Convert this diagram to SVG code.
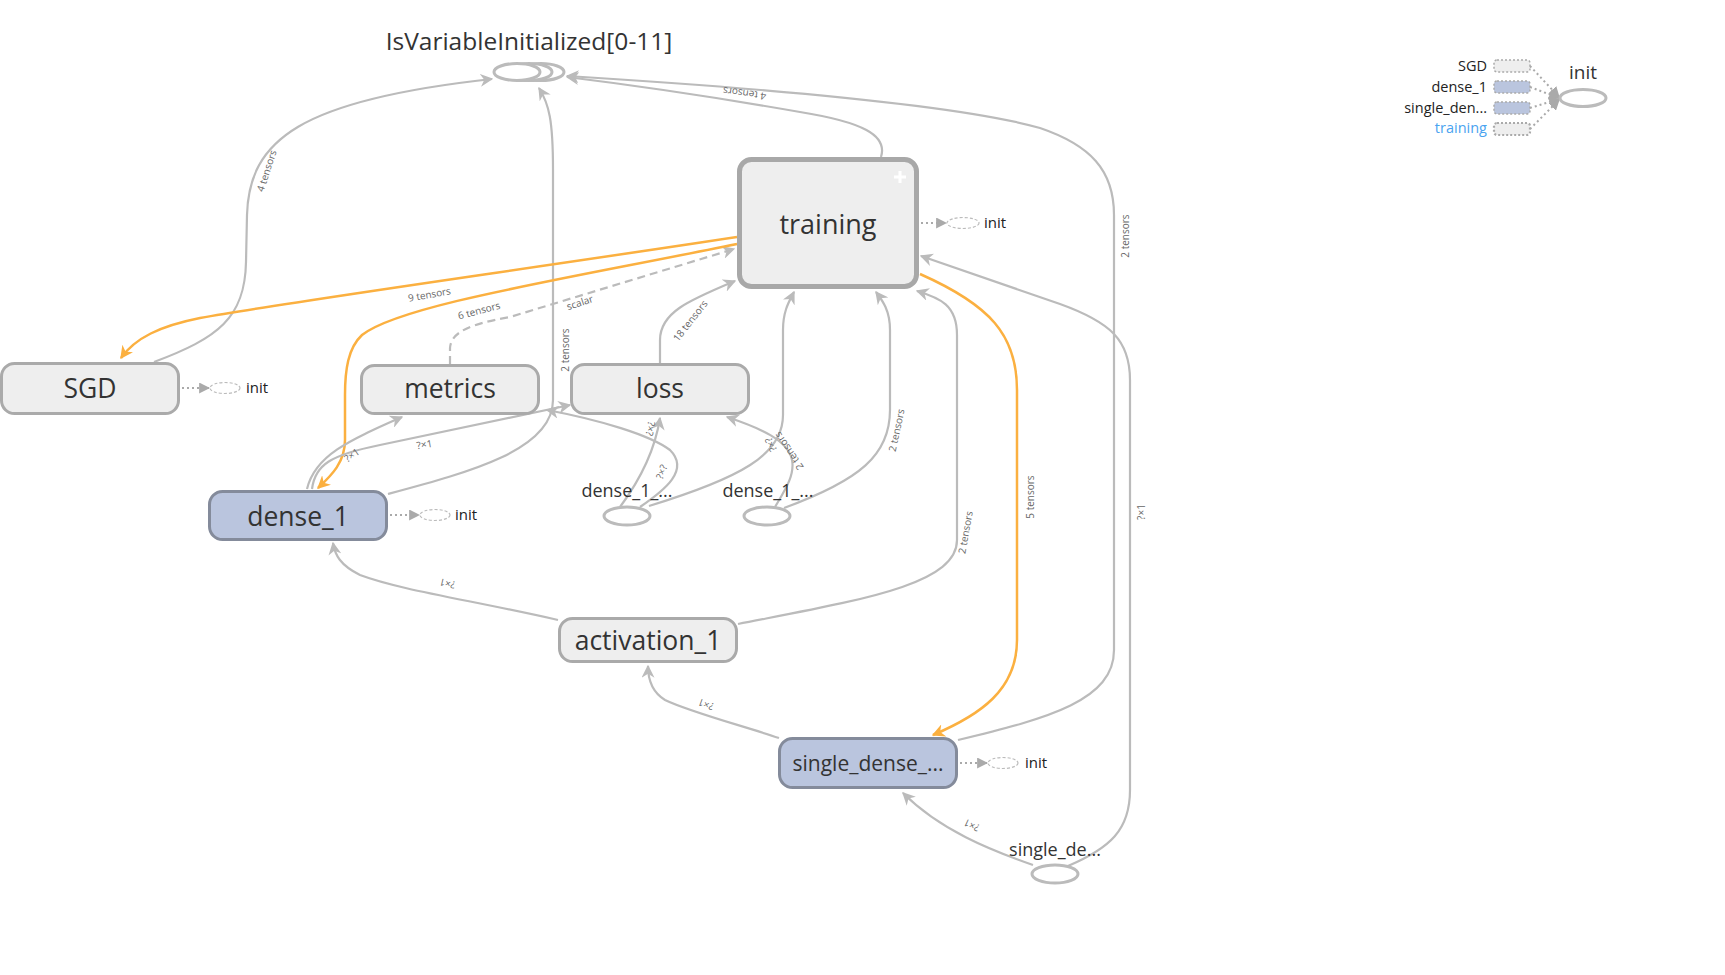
<svg xmlns="http://www.w3.org/2000/svg" width="1725" height="975" viewBox="0 0 1725 975">
<defs>
<marker id="ag" markerUnits="userSpaceOnUse" markerWidth="13" markerHeight="13" viewBox="0 0 10 10" refX="9" refY="5" orient="auto"><path d="M0,0 L10,5 L0,10 L3,5 Z" fill="#bbbbbb"/></marker>
<marker id="ao" markerUnits="userSpaceOnUse" markerWidth="13" markerHeight="13" viewBox="0 0 10 10" refX="9" refY="5" orient="auto"><path d="M0,0 L10,5 L0,10 L3,5 Z" fill="#fbb040"/></marker>
<marker id="ai" markerUnits="userSpaceOnUse" markerWidth="11" markerHeight="11" viewBox="0 0 10 10" refX="9" refY="5" orient="auto"><path d="M0,0 L10,5 L0,10 Z" fill="#aaaaaa"/></marker>
</defs>
<style>
text{font-family:"Open Sans","Noto Sans","Liberation Sans",sans-serif;}
.node{fill:#eeeeee;stroke:#aaaaaa;stroke-width:3;}
.blue{fill:#bac5de;stroke:#848b9b;stroke-width:3;}
.nt{font-size:26.5px;fill:#333333;text-anchor:middle;}
.ph{fill:#ffffff;stroke:#bbbbbb;stroke-width:3;}
.pt{font-size:18px;fill:#333333;text-anchor:middle;}
.e{fill:none;stroke:#bbbbbb;stroke-width:2.2;marker-end:url(#ag);}
.eo{fill:none;stroke:#fbb040;stroke-width:2.5;marker-end:url(#ao);}
.dash{stroke-dasharray:8,5;}
.lb{font-size:10px;fill:#666666;text-anchor:middle;}
.il{fill:none;stroke:#aaaaaa;stroke-width:2;stroke-dasharray:2,3;marker-end:url(#ai);}
.ie{fill:#ffffff;stroke:#bbbbbb;stroke-width:1.2;stroke-dasharray:3,2;}
.it{font-size:15px;fill:#222222;}
.lt{font-size:14.5px;fill:#222222;text-anchor:end;}
.lr{stroke:#aaaaaa;stroke-width:1.5;stroke-dasharray:2,2;}
</style>
<rect width="1725" height="975" fill="#ffffff"/>

<g id="connectors">
<path class="e" d="M154,362 C218,338 245,318 246,262 L247,215 C249,140 300,100 492,79"/>
<path class="e" d="M388,494 C470,472 553,450 553,400 L553,170 C553,120 549,104 539,88"/>
<path class="e" d="M881,157 C888,135 862,122 800,112 C720,98 640,86 567,77"/>
<path class="e" d="M958,740 C1050,718 1114,700 1114,650 L1114,215 C1114,170 1090,145 1040,128 C960,105 760,88 567,76"/>
<path class="e" d="M1068,866 C1110,848 1130,830 1130,790 L1130,380 C1130,340 1110,322 1060,304 L921,256"/>
<path class="e" d="M738,624 C860,600 957,585 957,540 L957,335 C957,305 940,298 917,291"/>
<path class="e" d="M784,508 C860,480 890,455 890,410 L890,330 C890,310 882,300 876,292"/>
<path class="e" d="M649,506 C740,478 783,455 783,415 L783,330 C783,310 790,300 794,292"/>
<path class="e" d="M660,363 L660,340 C660,312 690,300 735,281"/>
<path class="e dash" d="M450,364 L450,348 C451,332 470,324 510,317 L734,249"/>
<path class="eo" d="M737,237 C520,270 300,300 200,318 C160,326 135,338 121,358"/>
<path class="eo" d="M737,244 C560,280 400,305 362,335 C348,348 345,370 345,395 L345,440 C345,462 332,475 318,488"/>
<path class="eo" d="M920,274 C990,305 1017,335 1017,390 L1017,640 C1017,690 980,715 933,735"/>
<path class="e" d="M307,489 C315,455 350,440 402,417"/>
<path class="e" d="M312,489 C315,465 330,455 380,445 C450,430 520,415 570,405"/>
<path class="e" d="M640,507 C665,490 690,470 670,450 C650,435 600,420 547,410"/>
<path class="e" d="M620,507 C640,480 655,450 660,418"/>
<path class="e" d="M775,507 C785,490 795,475 792,460 C788,440 760,428 727,417"/>
<path class="e" d="M558,620 C470,600 400,590 360,575 C340,565 335,555 333,543"/>
<path class="e" d="M779,738 C740,725 690,712 665,700 C652,692 648,680 648,666"/>
<path class="e" d="M1033,865 C990,850 940,830 903,793"/>
<text class="lb" transform="translate(270,172) rotate(-72)">4 tensors</text>
<text class="lb" transform="translate(569,350) rotate(-90)">2 tensors</text>
<text class="lb" transform="translate(745,90) rotate(188)">4 tensors</text>
<text class="lb" transform="translate(1129,236) rotate(-90)">2 tensors</text>
<text class="lb" transform="translate(1145,512) rotate(-90)">?×1</text>
<text class="lb" transform="translate(969,533) rotate(-80)">2 tensors</text>
<text class="lb" transform="translate(900,431) rotate(-78)">2 tensors</text>
<text class="lb" transform="translate(693,323) rotate(-52)">18 tensors</text>
<text class="lb" transform="translate(581,306) rotate(-18)">scalar</text>
<text class="lb" transform="translate(430,298) rotate(-10)">9 tensors</text>
<text class="lb" transform="translate(480,314) rotate(-15)">6 tensors</text>
<text class="lb" transform="translate(1034,497) rotate(-90)">5 tensors</text>
<text class="lb" transform="translate(354,458) rotate(-35)">?×1</text>
<text class="lb" transform="translate(425,448) rotate(-10)">?×1</text>
<text class="lb" transform="translate(665,473) rotate(-70)">?×?</text>
<text class="lb" transform="translate(647,428) rotate(100)">?×?</text>
<text class="lb" transform="translate(774,443) rotate(-115)">?×?</text>
<text class="lb" transform="translate(792,449) rotate(-124)">2 tensors</text>
<text class="lb" transform="translate(448,580) rotate(193)">?×1</text>
<text class="lb" transform="translate(707,701) rotate(200)">?×1</text>
<text class="lb" transform="translate(973,822) rotate(205)">?×1</text>
</g>

<g id="IsVariableInitialized">
<ellipse class="ph" cx="541" cy="72" rx="23" ry="8.5"/>
<ellipse class="ph" cx="529" cy="72" rx="23" ry="8.5"/>
<ellipse class="ph" cx="517" cy="72" rx="23" ry="8.5"/>
<text x="529" y="50" style="font-size:24.5px;fill:#333333;text-anchor:middle;">IsVariableInitialized[0-11]</text>
</g>

<g id="training">
<rect x="739.5" y="159.5" width="177" height="127" rx="12" style="fill:#eeeeee;stroke:#a8a8a8;stroke-width:5;"/>
<text class="nt" x="828" y="234" style="font-size:27px;">training</text>
<path d="M894,177 L906,177 M900,171 L900,183" stroke="#ffffff" stroke-width="3"/>
<path class="il" d="M921,223 L946,223"/>
<ellipse class="ie" cx="963" cy="223" rx="16" ry="5.5"/>
<text class="it" x="984" y="228">init</text>
</g>

<g id="SGD">
<rect class="node" x="1.5" y="363.5" width="177" height="50" rx="13"/>
<text class="nt" x="90" y="398">SGD</text>
<path class="il" d="M182,388 L209,388"/>
<ellipse class="ie" cx="225" cy="388" rx="15" ry="5.5"/>
<text class="it" x="246" y="393">init</text>
</g>

<g id="metrics">
<rect class="node" x="361.5" y="365.5" width="177" height="48" rx="13"/>
<text class="nt" x="450" y="398">metrics</text>
</g>

<g id="loss">
<rect class="node" x="571.5" y="364.5" width="177" height="49" rx="13"/>
<text class="nt" x="660" y="398">loss</text>
</g>

<g id="dense_1">
<rect class="blue" x="209.5" y="491.5" width="177" height="48" rx="13"/>
<text class="nt" x="298" y="526">dense_1</text>
<path class="il" d="M390,515 L419,515"/>
<ellipse class="ie" cx="435" cy="515" rx="15" ry="5.5"/>
<text class="it" x="455" y="520">init</text>
</g>

<g id="activation_1">
<rect class="node" x="559.5" y="618.5" width="177" height="43" rx="13"/>
<text class="nt" x="648" y="650">activation_1</text>
</g>

<g id="single_dense">
<rect class="blue" x="779.5" y="738.5" width="177" height="49" rx="13"/>
<text class="nt" x="868" y="771" style="font-size:21px;">single_dense_...</text>
<path class="il" d="M960,763 L987,763"/>
<ellipse class="ie" cx="1003" cy="763" rx="15" ry="5.5"/>
<text class="it" x="1025" y="768">init</text>
</g>

<g id="dense_1_ph1">
<ellipse class="ph" cx="627" cy="516" rx="23" ry="9"/>
<text class="pt" x="627" y="497">dense_1_...</text>
</g>

<g id="dense_1_ph2">
<ellipse class="ph" cx="767" cy="516" rx="23" ry="9"/>
<text class="pt" x="768" y="497">dense_1_...</text>
</g>

<g id="single_de_ph">
<ellipse class="ph" cx="1055" cy="874" rx="23" ry="9"/>
<text class="pt" x="1055" y="856">single_de...</text>
</g>

<g id="legend_init">
<text class="lt" x="1487" y="71">SGD</text>
<text class="lt" x="1487" y="92">dense_1</text>
<text class="lt" x="1487" y="113">single_den...</text>
<text class="lt" x="1487" y="133" style="fill:#4aa3f0;">training</text>
<rect class="lr" x="1494" y="60" width="36" height="12" rx="3" fill="#eeeeee"/>
<rect class="lr" x="1494" y="81" width="36" height="12" rx="3" fill="#bac5de"/>
<rect class="lr" x="1494" y="102" width="36" height="12" rx="3" fill="#bac5de"/>
<rect class="lr" x="1494" y="123" width="36" height="12" rx="3" fill="#eeeeee" style="stroke-width:2.2;"/>
<path class="il" d="M1530,66 L1559,97"/>
<path class="il" d="M1530,87 L1559,98"/>
<path class="il" d="M1530,108 L1559,99"/>
<path class="il" d="M1530,129 L1559,100"/>
<ellipse class="ph" cx="1583" cy="98" rx="23" ry="8.5"/>
<text x="1583" y="79" style="font-size:19px;fill:#333333;text-anchor:middle;">init</text>
</g>
</svg>
